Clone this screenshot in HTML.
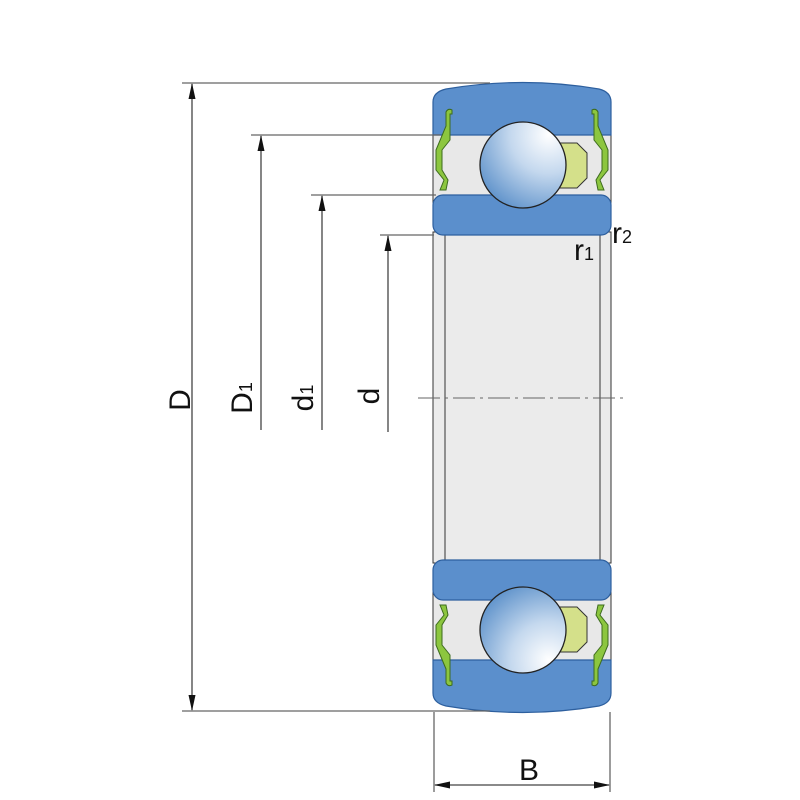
<!DOCTYPE html>
<html><head><style>body{margin:0;background:#fff}svg{display:block}</style></head>
<body>
<svg width="800" height="800" viewBox="0 0 800 800" xmlns="http://www.w3.org/2000/svg" font-family="Liberation Sans, sans-serif">
<defs>
<radialGradient id="bg" cx="0.8" cy="0.15" r="1.0" fx="0.8" fy="0.15">
<stop offset="0" stop-color="#ffffff"/><stop offset="0.45" stop-color="#c4d8ee"/><stop offset="1" stop-color="#5a8fc9"/>
</radialGradient>
<g id="half">
<rect x="433" y="115" width="178" height="90" fill="#e8e8e8" stroke="#333" stroke-width="1"/>
<path d="M433,102 Q433,92 446,89 Q523,76 599,89 Q611,92 611,102 L611,135 L433,135 Z" fill="#5b8fcc" stroke="#2d5f9e" stroke-width="1.2"/>
<rect x="433" y="195" width="178" height="40" rx="10" fill="#5b8fcc" stroke="#2d5f9e" stroke-width="1.2"/>
<path d="M560,143 L577,143 L587,153 L587,178 L577,188 L560,188 Z" fill="#d4e08a" stroke="#333" stroke-width="1"/>
<circle cx="523" cy="165" r="43" fill="url(#bg)" stroke="#222" stroke-width="1.3"/>
<path d="M446,126 L446,112 Q448,108 452,110 L452,114 L450,114 L450,140 L442,150 L442,170 L448,180 L446,190 L440,190 L444,180 L436,170 L436,150 Z" fill="#8cc63f" stroke="#3d6b1e" stroke-width="1"/>
<path d="M598,126 L598,112 Q596,108 592,110 L592,114 L594,114 L594,140 L602,150 L602,170 L596,180 L598,190 L604,190 L600,180 L608,170 L608,150 Z" fill="#8cc63f" stroke="#3d6b1e" stroke-width="1"/>
</g>
</defs>
<rect x="433" y="232" width="178" height="331" fill="#ebebeb" stroke="#333" stroke-width="1"/>
<line x1="445" y1="235" x2="445" y2="560" stroke="#333"/>
<line x1="600" y1="235" x2="600" y2="560" stroke="#333"/>
<use href="#half"/>
<use href="#half" transform="translate(0,795) scale(1,-1)"/>
<line x1="418" y1="398" x2="625" y2="398" stroke="#666" stroke-dasharray="22,5,3,5"/>
<g stroke="#666" stroke-width="1.3" fill="none">
<line x1="182" y1="83" x2="490" y2="83"/>
<line x1="182" y1="711" x2="490" y2="711"/>
<line x1="251" y1="135" x2="440" y2="135"/>
<line x1="311" y1="195" x2="436" y2="195"/>
<line x1="380" y1="235" x2="434" y2="235"/>
<line x1="434" y1="712" x2="434" y2="792"/>
<line x1="610" y1="712" x2="610" y2="792"/>
</g>
<g stroke="#444" stroke-width="1.3">
<line x1="192" y1="84" x2="192" y2="710"/>
<line x1="261" y1="136" x2="261" y2="430"/>
<line x1="322" y1="196" x2="322" y2="430"/>
<line x1="388" y1="236" x2="388" y2="432"/>
<line x1="435" y1="785" x2="609" y2="785"/>
</g>
<g fill="#111">
<path d="M192,83 L188.5,99 L195.5,99 Z"/>
<path d="M192,711 L188.5,695 L195.5,695 Z"/>
<path d="M261,135 L257.5,151 L264.5,151 Z"/>
<path d="M322,195 L318.5,211 L325.5,211 Z"/>
<path d="M388,235 L384.5,251 L391.5,251 Z"/>
<path d="M434,785 L450,781.5 L450,788.5 Z"/>
<path d="M610,785 L594,781.5 L594,788.5 Z"/>
</g>
<g fill="#111" font-size="30">
<text transform="translate(190,400) rotate(-90)" text-anchor="middle">D</text>
<text transform="translate(252,398) rotate(-90)" text-anchor="middle">D<tspan font-size="18">1</tspan></text>
<text transform="translate(313,398) rotate(-90)" text-anchor="middle">d<tspan font-size="18">1</tspan></text>
<text transform="translate(379,396) rotate(-90)" text-anchor="middle">d</text>
<text x="529" y="780" text-anchor="middle">B</text>
<text x="612" y="243">r<tspan font-size="18">2</tspan></text>
<text x="574" y="260">r<tspan font-size="18">1</tspan></text>
</g>
</svg>
</body></html>
